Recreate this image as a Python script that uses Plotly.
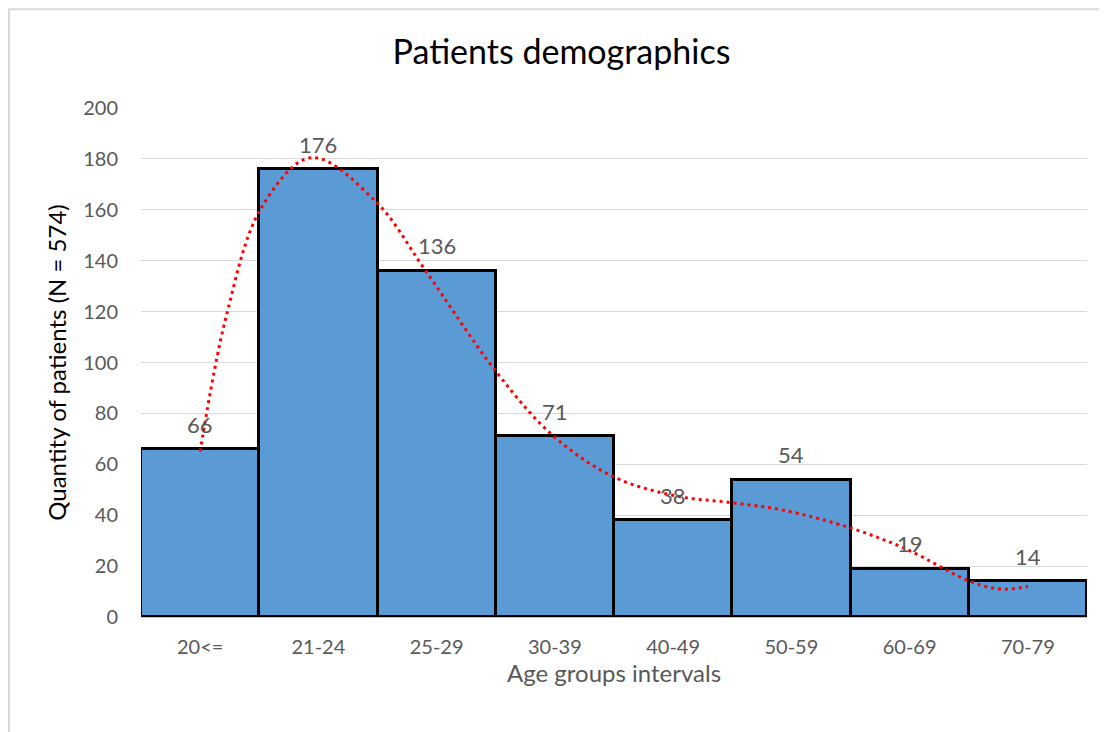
import plotly.graph_objects as go

# age group counts
age_groups = ['20<=', '21-24', '25-29', '30-39', '40-49', '50-59', '60-69', '70-79']
patients = [66, 176, 136, 71, 38, 54, 19, 14]

# dotted trend curve (x in category units)
trend_x = [0, 0.22, 0.52, 0.94, 1.49, 1.90, 2.51, 2.99, 3.50, 4.03, 4.48, 4.93, 5.50, 5.98, 6.51, 6.77, 7.0]
trend_y = [65, 118, 161, 180.5, 163, 136.5, 96, 71, 55, 47.5, 45, 42, 35, 26.5, 14, 11, 12]

font_family = 'Lato, "Open Sans", sans-serif'
bar_x = list(range(len(age_groups)))

fig = go.Figure()

# histogram-like bars with no gaps
fig.add_trace(go.Bar(
    x=bar_x, y=patients, width=1,
    marker=dict(color='#5B9BD5', line=dict(color='black', width=3)),
    showlegend=False
))

# polynomial-looking trendline
fig.add_trace(go.Scatter(
    x=trend_x, y=trend_y, mode='lines', line_shape='spline',
    line=dict(color='#FF0000', width=3, dash='3px,4px'),
    showlegend=False
))

# data labels sit a bit above each bar, on top of the trendline
for xi, val in zip(bar_x, patients):
    fig.add_annotation(x=xi, y=val, text=str(val), showarrow=False,
                       yanchor='middle', yshift=25,
                       font=dict(family=font_family, size=22, color='#595959'))

# page body adds an 8px offset, margins allow for it
fig.update_layout(
    width=1107, height=732,
    margin=dict(l=133, r=28, t=100, b=123),
    paper_bgcolor='white', plot_bgcolor='white',
    font=dict(family=font_family),
    title=dict(text='Patients demographics', x=0.5, xanchor='center', y=0.94, yanchor='middle',
               font=dict(family=font_family, size=34, color='black')),
    bargap=0,
)

fig.update_xaxes(
    range=[-0.5, 7.5], tickvals=bar_x, ticktext=age_groups,
    tickfont=dict(size=20, color='#595959'), showgrid=False,
    showline=True, linecolor='#BFBFBF', linewidth=1,
    ticklabelstandoff=12,
    title=dict(text='Age groups intervals', standoff=0, font=dict(size=24, color='#595959')),
    ticks='', zeroline=False
)

fig.update_yaxes(
    range=[0, 200], dtick=20, tickfont=dict(size=20, color='#595959'),
    showgrid=True, gridcolor='#D9D9D9', gridwidth=1, zeroline=False,
    ticklabelstandoff=22,
    title=dict(text='Quantity of patients (N = 574)', standoff=9, font=dict(size=24, color='black'))
)

# light grey chart-area frame
fig.add_shape(type='rect', xref='paper', yref='paper',
              x0=-0.1395, x1=1.05, y0=-0.3, y1=1.194,
              line=dict(color='#D9D9D9', width=2), layer='below')

fig.write_html("out.html")
